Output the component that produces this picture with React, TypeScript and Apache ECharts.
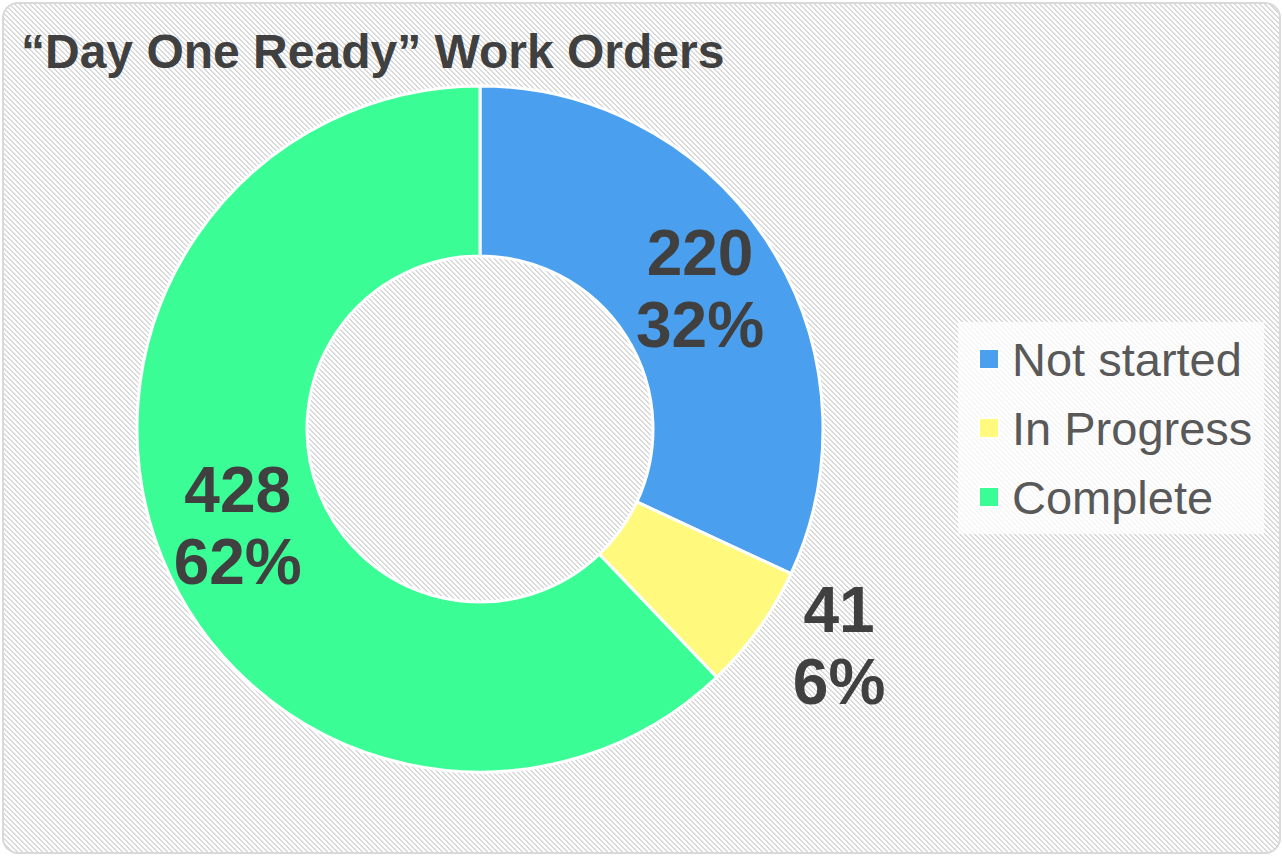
import React, { useEffect, useRef } from "react";
import * as echarts from "echarts";

const titleText = "“Day One Ready” Work Orders";
const categories = ["Not started", "In Progress", "Complete"];
const values = [220, 41, 428];
const colors = ["#4AA0EF", "#FFFA7D", "#3AFD96"];

const tileSvg =
  "<svg xmlns='http://www.w3.org/2000/svg' width='5' height='5' shape-rendering='crispEdges'>" +
  "<rect width='5' height='5' fill='#ffffff'/>" +
  [0, 1, 2, 3, 4]
    .map((y) =>
      [0, 1]
        .map((k) => `<rect x='${(y + k) % 5}' y='${y}' width='1' height='1' fill='#d9d9d9'/>`)
        .join("")
    )
    .join("") +
  "</svg>";
const tileUrl = `url("data:image/svg+xml;utf8,${encodeURIComponent(tileSvg)}")`;

export default function App() {
  const ref = useRef<HTMLDivElement>(null);

  useEffect(() => {
    if (!ref.current) return;
    const chart = echarts.init(ref.current, undefined, { renderer: "svg" });
    const labelStyle = {
      fontFamily: "Liberation Sans, Arial, sans-serif",
      fontSize: 64,
      fontWeight: "bold" as const,
      color: "#404040",
      lineHeight: 72,
    };
    chart.setOption({
      animation: false,
      backgroundColor: "transparent",
      title: {
        text: titleText,
        left: 16,
        top: 22,
        textStyle: {
          fontFamily: "Liberation Sans, Arial, sans-serif",
          fontSize: 48,
          fontWeight: "bold",
          color: "#404040",
        },
      },
      legend: {
        orient: "vertical",
        left: 958,
        top: 322,
        padding: [12, 12, 12, 20],
        backgroundColor: "rgba(255,255,255,0.75)",
        itemWidth: 20,
        itemHeight: 20,
        itemGap: 19,
        icon: "rect",
        data: categories,
        textStyle: {
          fontFamily: "Liberation Sans, Arial, sans-serif",
          fontSize: 47,
          color: "#595959",
          lineHeight: 50,
          padding: [0, 0, 0, 8],
        },
      },
      series: [
        {
          type: "pie",
          center: [480, 429],
          radius: [173, 343],
          startAngle: 90,
          clockwise: true,
          itemStyle: { borderColor: "#ffffff", borderWidth: 3 },
          label: {
            show: true,
            position: "inside",
            formatter: (p: any) => `${p.value}\n${Math.round(p.percent)}%`,
            ...labelStyle,
          },
          labelLine: { show: false },
          emphasis: { disabled: true },
          data: categories.map((name, i) => ({
            name,
            value: values[i],
            itemStyle: { color: colors[i] },
            label: i === 1 ? { offset: [147, 65] } : undefined,
          })),
        },
      ],
    });
    return () => chart.dispose();
  }, []);

  return (
    <div
      style={{
        position: "absolute",
        left: 0,
        top: 0,
        width: 1283,
        height: 856,
        background: "#ffffff",
        overflow: "hidden",
      }}
    >
      <div
        style={{
          position: "absolute",
          left: 2,
          top: 2,
          width: 1279,
          height: 852,
          boxSizing: "border-box",
          border: "2px solid #d9d9d9",
          borderRadius: 16,
          backgroundImage: tileUrl,
          backgroundRepeat: "repeat",
        }}
      />
      <div
        ref={ref}
        style={{ position: "absolute", left: 0, top: 0, width: 1283, height: 856 }}
      />
    </div>
  );
}
